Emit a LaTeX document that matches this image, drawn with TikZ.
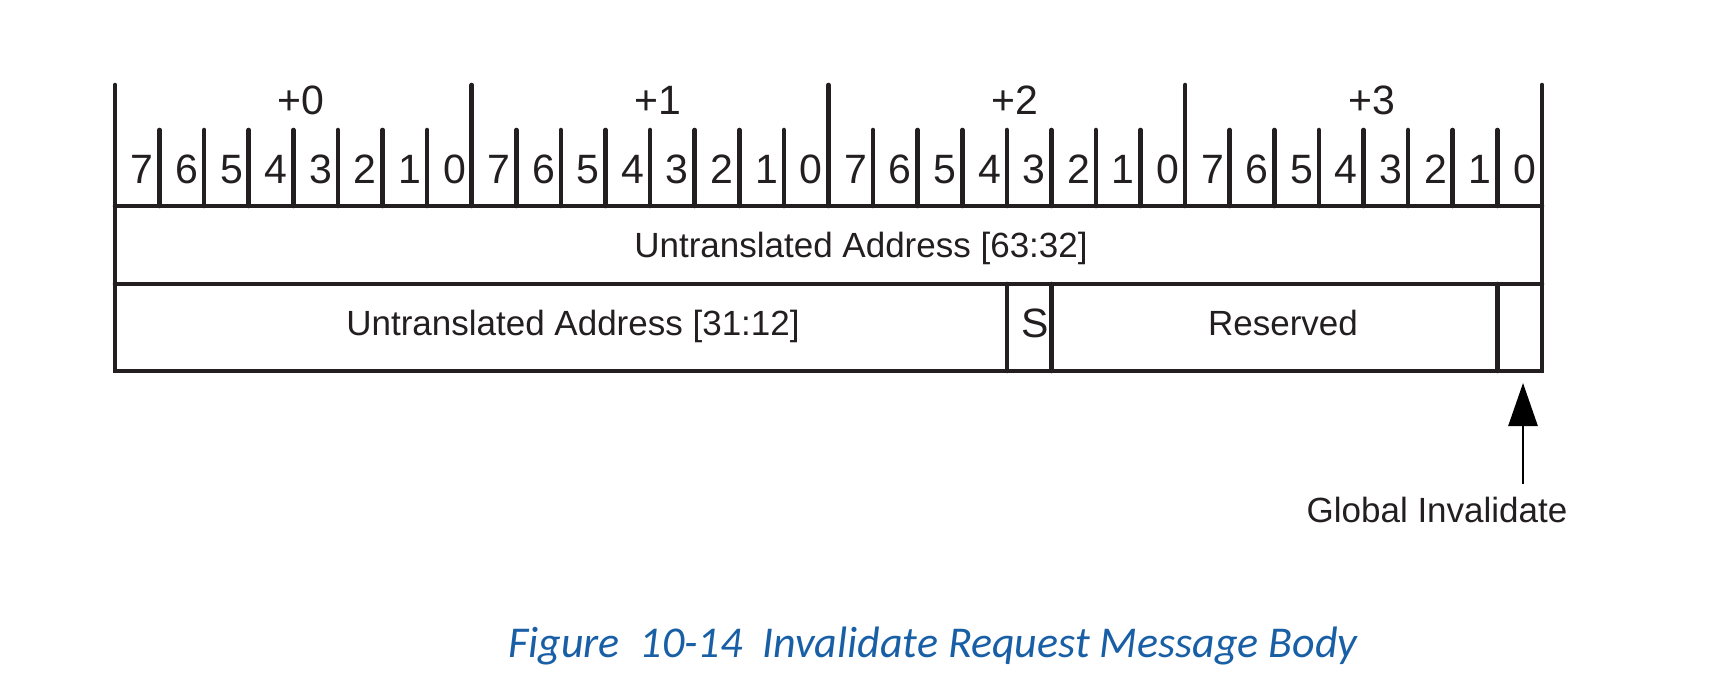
\documentclass[tikz,border=0pt]{standalone}
\usepackage{fontspec}
\setmainfont{Liberation Sans}
\newfontfamily\capfont{Carlito}
\usetikzlibrary{arrows.meta}
\definecolor{ink}{RGB}{35,31,32}
\definecolor{capblue}{RGB}{25,95,165}
\begin{document}
\begin{tikzpicture}[x=1pt,y=-1pt,
  rule/.style={draw=ink,line width=4.6pt,line cap=round,line join=miter},
  bitlbl/.style={anchor=base,inner sep=0pt,text=ink,font=\fontsize{41}{44}\selectfont},
  fieldlbl/.style={anchor=base,inner sep=0pt,text=ink,font=\fontsize{35}{38}\selectfont},
  caplbl/.style={anchor=base,inner sep=0pt,text=capblue,font=\capfont\itshape\fontsize{44}{47}\selectfont},
  ptr/.style={draw=black,line width=2.8pt,-{Triangle[length=43pt,width=29pt]}}]
\useasboundingbox (0,0) rectangle (1720,698);
\def\bw{44.59}
% bit ticks
\foreach \i in {1,...,7,9,10,...,15,17,18,...,23,25,26,...,31}
  \draw[rule] ({115+\i*\bw},130) -- ({115+\i*\bw},206);
% byte boundaries
\foreach \i in {8,16,24}
  \draw[rule] ({115+\i*\bw},85) -- ({115+\i*\bw},206);
% outline and rows
\draw[rule] (115,85) -- (115,371) -- (1542,371) -- (1542,85);
\draw[rule] (115,206) -- (1542,206);
\draw[rule] (115,284) -- (1542,284);
\foreach \i in {20,21,31}
  \draw[rule] ({115+\i*\bw},284) -- ({115+\i*\bw},371);
% byte labels
\foreach \b in {0,1,2,3}
  \node[bitlbl] (byte\b) at ({115+(\b*8+4)*\bw+8},115) {+\b};
% bit numbers
\foreach \b in {0,1,2,3}
  \foreach \k in {0,...,7}{
    \pgfmathtruncatemacro{\lbl}{7-\k}
    \node[bitlbl] (bit\b\k) at ({115+(\b*8+\k+0.5)*\bw+5},183) {\lbl};
  }
% field labels
\node[fieldlbl] (hi) at (861,257) {Untranslated Address [63:32]};
\node[fieldlbl] (lo) at (573,335) {Untranslated Address [31:12]};
\node[bitlbl] (s) at (1035,337) {S};
\node[fieldlbl] (res) at (1283,335) {Reserved};
% global invalidate
\node[fieldlbl] (gi) at (1437,522) {Global Invalidate};
\coordinate (gitail) at (1523,484);
\coordinate (gitip) at (1523,383);
\draw[ptr] (gitail) -- (gitip);
% caption
\node[caplbl] (cap) at (933,657) {Figure\hspace{0.45em}10-14\hspace{0.45em}Invalidate Request Message Body};
\end{tikzpicture}
\end{document}
